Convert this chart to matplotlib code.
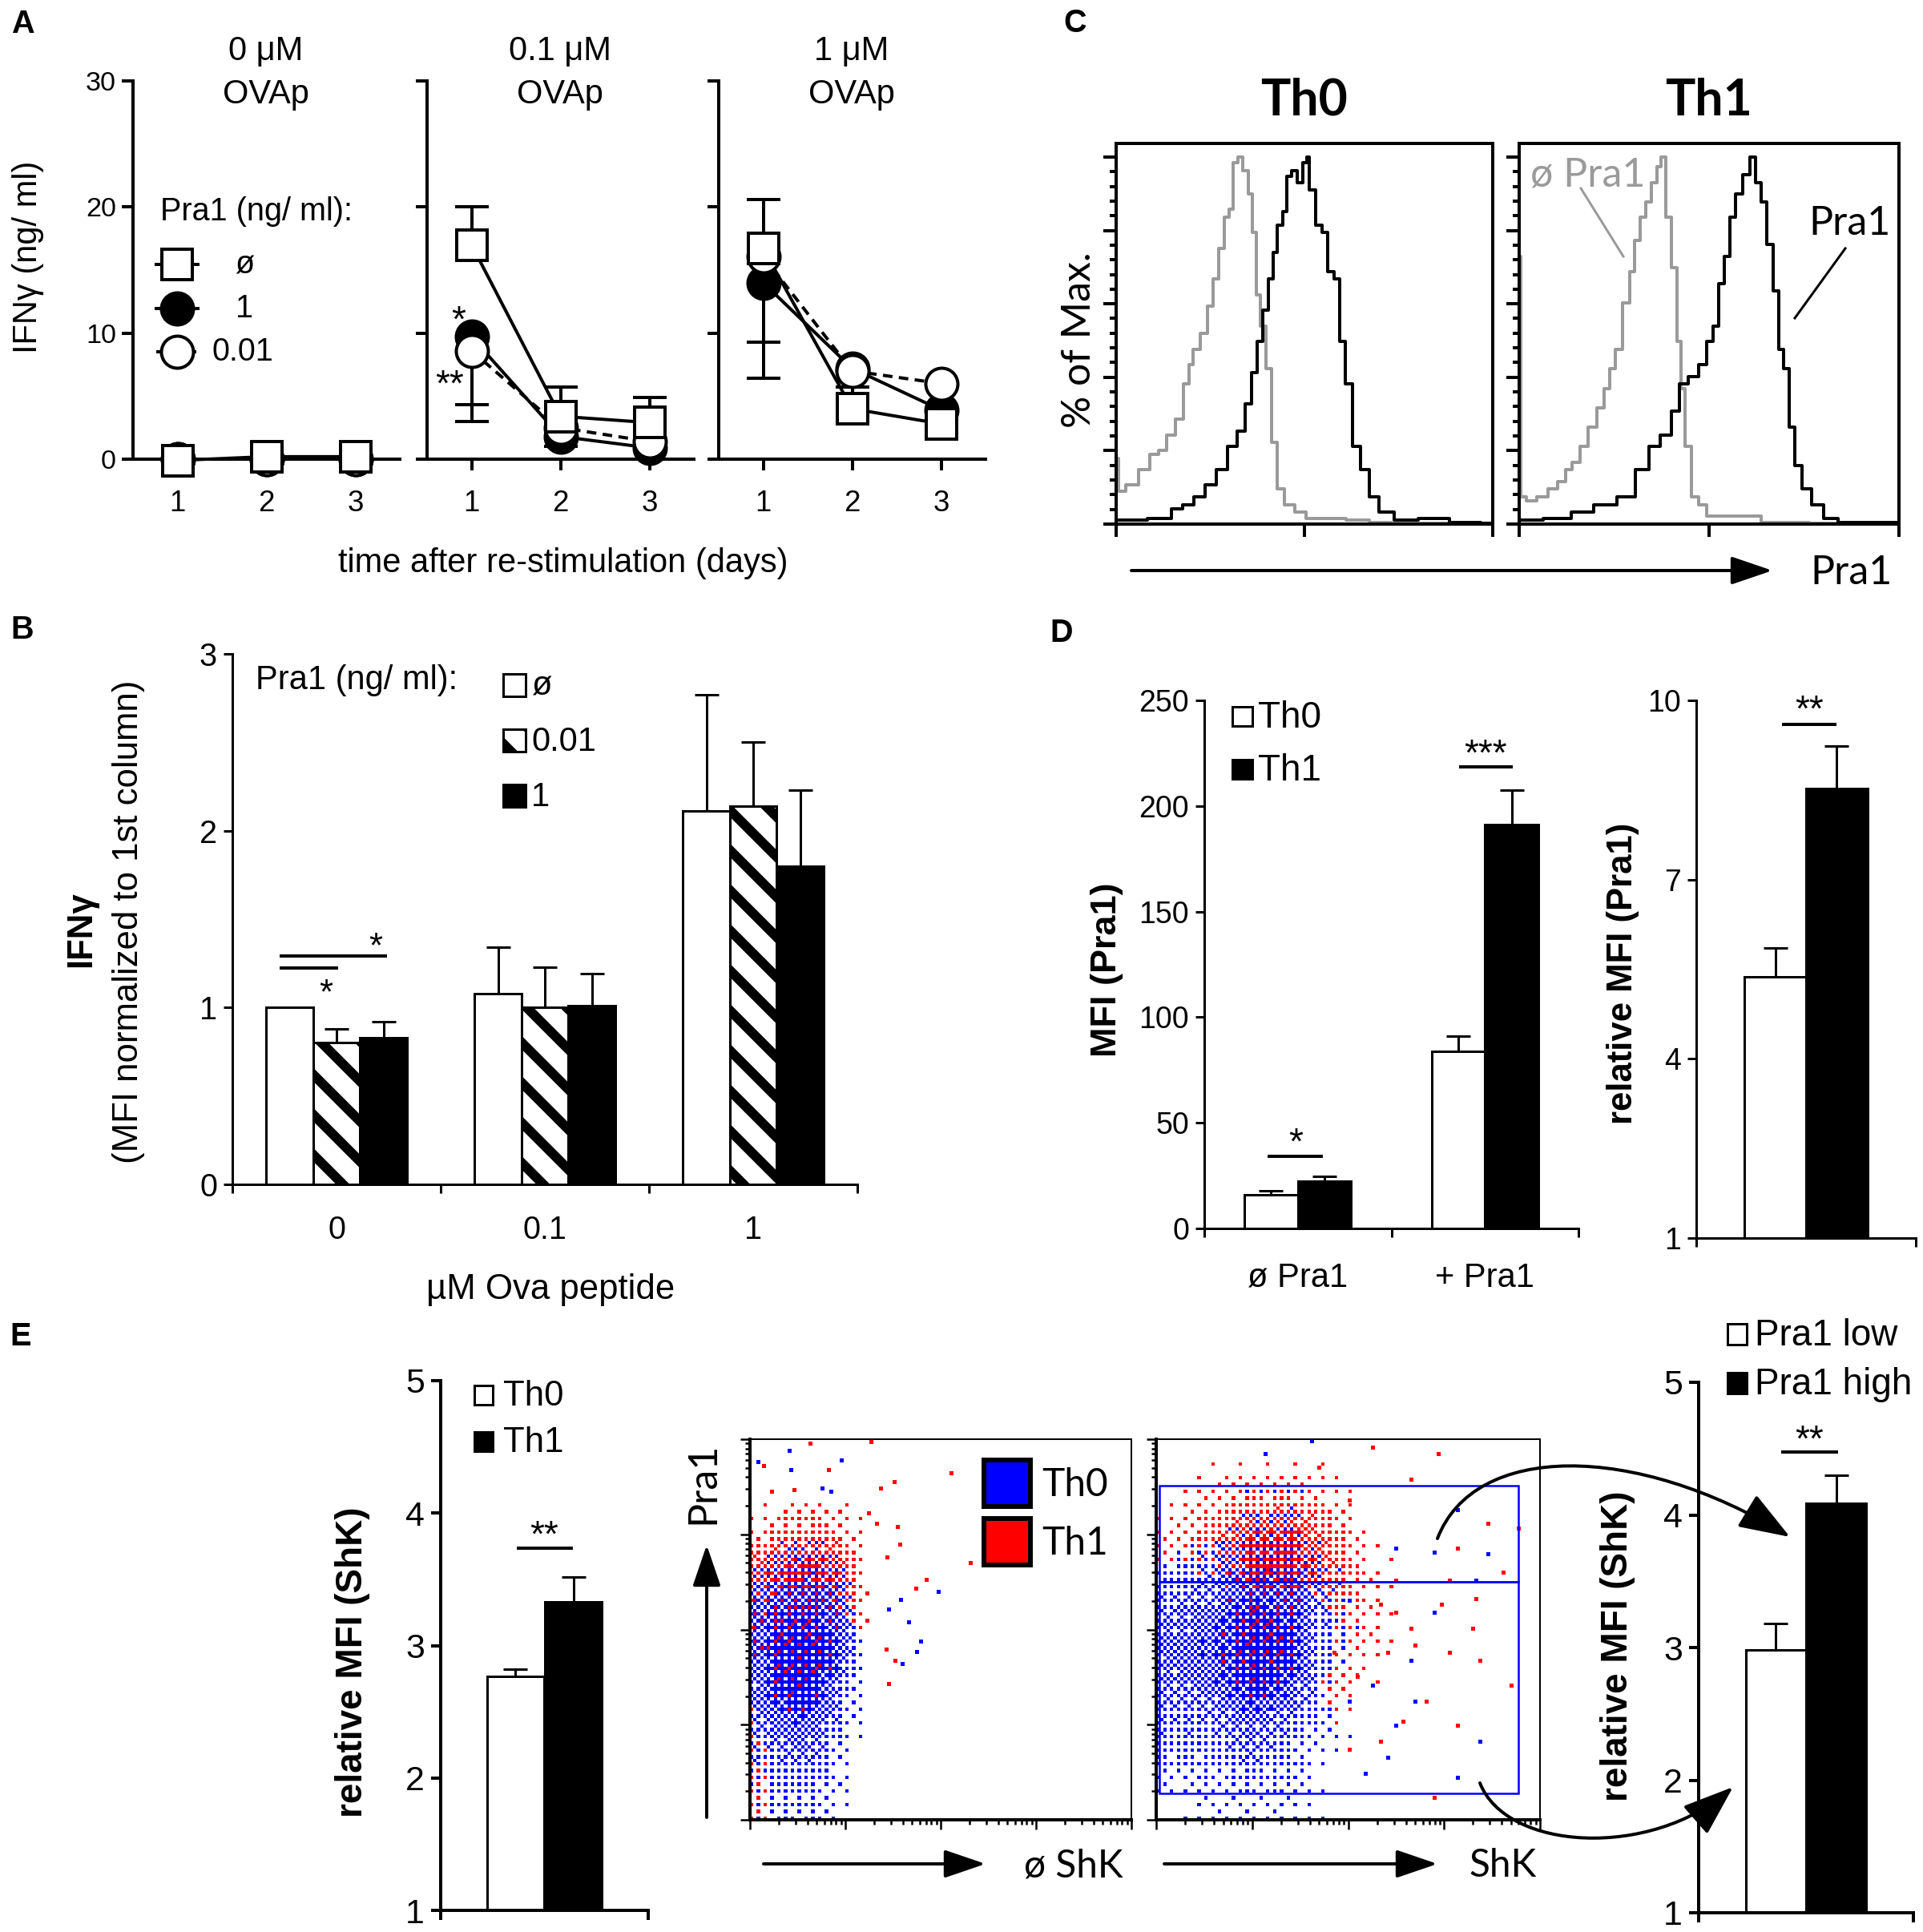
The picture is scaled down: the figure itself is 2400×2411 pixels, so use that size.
import numpy as np
import matplotlib
matplotlib.use('Agg')
import matplotlib.pyplot as plt
from matplotlib.patches import Rectangle, FancyArrowPatch
from matplotlib.path import Path
from matplotlib.lines import Line2D
from matplotlib.ticker import MultipleLocator, LogLocator, NullFormatter

W, H, DPI = 2400, 2411, 300
PT = 72.0 / DPI          # points per output pixel

ARIAL = ['Liberation Sans', 'DejaVu Sans']
CALIBRI = ['Lato', 'DejaVu Sans']
plt.rcParams['font.family'] = ARIAL
plt.rcParams['hatch.linewidth'] = 12 * PT
plt.rcParams['hatch.color'] = 'black'

# ===============================
# Data
# ===============================
# A: IFNg (ng/ml) over days, one list per OVAp concentration
days = [1, 2, 3]
a_titles = ['0 \u03bcM', '0.1 \u03bcM', '1 \u03bcM']
a_none = [[-0.1, 0.2, 0.2], [17.0, 3.4, 2.9], [16.7, 4.0, 2.8]]
a_none_up = [[0, 0, 0], [3.0, 2.3, 2.0], [3.9, 1.7, 0]]
a_one = [[0, 0, 0], [9.7, 1.8, 0.9], [14.0, 7.2, 3.9]]
a_one_down = [[0, 0, 0], [5.4, 0.8, 0], [7.6, 0, 0]]
a_low = [[0, 0, 0], [8.6, 2.5, 1.4], [16.1, 7.0, 6.0]]
a_low_down = [[0, 0, 0], [5.6, 0, 0], [6.8, 0, 0]]

# B: normalized IFNg
b_groups = ['0', '0.1', '1']
b_none = [1.00, 1.08, 2.11]
b_none_err = [0.0, 0.26, 0.66]
b_low = [0.80, 1.00, 2.14]
b_low_err = [0.08, 0.23, 0.36]
b_one = [0.83, 1.01, 1.80]
b_one_err = [0.09, 0.18, 0.43]

# C: histograms, x in log decades, y in % of max
c0_gray_x = [0, 0.006, 0.04, 0.16, 0.31, 0.40, 0.49, 0.58, 0.67, 0.76, 0.79, 0.85, 0.94, 1.00, 1.06,
             1.12, 1.18, 1.22, 1.27, 1.31, 1.37, 1.43, 1.47, 1.50, 1.56, 1.62, 1.68, 1.74, 1.83, 1.95,
             2.07, 2.31, 2.55, 2.79, 3.03, 4.0]
c0_gray_y = [0, 18.0, 9.0, 10.6, 14.8, 19.0, 20.1, 24.3, 28.6, 38.1, 43.4, 47.6, 51.9, 59.3, 66.7,
             75.1, 83.6, 85.7, 98.4, 100, 96.3, 89.9, 79.4, 62.4, 54.0, 42.3, 22.2, 9.5, 5.3, 3.2,
             1.6, 1.6, 1.1, 0.5, 0.2, 0]
c0_black_x = [0, 0.52, 0.64, 0.76, 0.88, 1.00, 1.12, 1.24, 1.33, 1.41, 1.47, 1.53, 1.59, 1.65, 1.68,
              1.74, 1.80, 1.83, 1.89, 1.95, 2.01, 2.04, 2.07, 2.16, 2.22, 2.28, 2.34, 2.40, 2.46, 2.55,
              2.64, 2.73, 2.85, 3.03, 3.33, 3.68, 4.0]
c0_black_y = [1.1, 1.6, 4.2, 5.3, 7.4, 10.6, 14.8, 21.2, 25.4, 32.8, 41.3, 49.7, 58.2, 66.7, 74.1,
              81.5, 85.2, 94.7, 96.3, 93.1, 98.4, 100, 91.0, 81.5, 79.4, 68.8, 66.7, 49.7, 38.1, 21.2,
              14.8, 7.4, 3.2, 1.1, 1.6, 0.5, 0.2]
c1_gray_x = [0, 0.006, 0.03, 0.12, 0.24, 0.36, 0.44, 0.53, 0.59, 0.68, 0.77, 0.86, 0.92, 0.98, 1.04,
             1.13, 1.19, 1.24, 1.30, 1.36, 1.42, 1.48, 1.51, 1.57, 1.63, 1.69, 1.72, 1.78, 1.84, 1.93,
             2.01, 2.37, 2.67, 3.26, 4.0]
c1_gray_y = [0, 73.0, 7.4, 6.3, 7.4, 9.5, 11.6, 14.8, 16.9, 21.2, 26.5, 31.7, 37.0, 42.3, 47.6,
             60.3, 68.8, 77.2, 83.6, 87.8, 93.1, 97.4, 100, 83.6, 69.8, 49.7, 37.0, 21.2, 7.4, 5.3,
             2.1, 2.1, 0.5, 0.2, 0]
c1_black_x = [0, 0.41, 0.65, 0.89, 1.13, 1.30, 1.42, 1.54, 1.66, 1.72, 1.84, 1.93, 2.01, 2.07, 2.13,
              2.19, 2.25, 2.31, 2.40, 2.46, 2.52, 2.58, 2.64, 2.70, 2.76, 2.81, 2.87, 2.93, 3.02, 3.14,
              3.26, 3.44, 4.0]
c1_black_y = [1.1, 1.6, 3.2, 5.3, 7.4, 14.8, 21.2, 24.3, 30.7, 38.1, 40.2, 43.4, 49.7, 54.0, 65.6,
              73.0, 83.6, 89.9, 95.2, 100, 93.1, 87.8, 76.2, 63.5, 47.6, 42.3, 26.5, 15.9, 9.5, 5.3,
              1.6, 0.5, 0.5]

# D: MFI (Pra1)
d_groups = ['\u00f8 Pra1', '+ Pra1']
d_th0 = [15.8, 83.8]
d_th0_err = [1.9, 7.3]
d_th1 = [22.5, 191.3]
d_th1_err = [2.0, 16.1]
d_rel = [5.37, 8.53]
d_rel_err = [0.48, 0.71]

# E: relative MFI (ShK)
e_shk = [2.77, 3.33]
e_shk_err = [0.05, 0.19]
e_gate = [2.98, 4.09]
e_gate_err = [0.20, 0.21]

# E dot plots: event density (0-9) per cell, rows from top to bottom
s1_blue = [[0, 0, 1, 1, 0, 0, 0],
           [1, 2, 3, 3, 2, 0, 0],
           [5, 7, 8, 8, 5, 1, 0],
           [6, 9, 9, 9, 7, 2, 0],
           [5, 8, 9, 8, 5, 1, 0],
           [3, 5, 6, 5, 3, 1, 0],
           [2, 3, 3, 3, 1, 0, 0],
           [1, 2, 2, 2, 1, 0, 0]]
s1_red = [[1, 2, 3, 3, 2, 1, 0],
          [5, 7, 8, 8, 6, 2, 0],
          [6, 6, 6, 6, 6, 3, 0],
          [6, 4, 3, 3, 5, 2, 0],
          [5, 4, 3, 3, 3, 1, 0],
          [4, 3, 3, 3, 2, 1, 0],
          [3, 2, 2, 2, 1, 0, 0],
          [2, 2, 2, 2, 1, 0, 0]]
s2_blue = [[0, 0, 1, 1, 0, 0, 0, 0, 0],
           [0, 1, 1, 1, 0, 0, 0, 0, 0],
           [2, 3, 4, 4, 1, 0, 0, 0, 0],
           [4, 5, 8, 7, 2, 0, 0, 0, 0],
           [5, 6, 9, 8, 2, 0, 0, 0, 0],
           [4, 5, 8, 6, 1, 0, 0, 0, 0],
           [3, 3, 5, 3, 1, 0, 0, 0, 0],
           [2, 2, 3, 2, 0, 0, 0, 0, 0],
           [0, 1, 1, 1, 0, 0, 0, 0, 0]]
s2_red = [[0, 1, 2, 2, 1, 0, 0, 0, 0],
          [1, 3, 6, 7, 3, 0, 0, 0, 0],
          [2, 4, 8, 8, 4, 1, 0, 0, 0],
          [3, 4, 5, 5, 3, 1, 0, 0, 0],
          [3, 4, 4, 4, 2, 1, 0, 0, 0],
          [3, 4, 4, 3, 2, 0, 0, 0, 0],
          [2, 3, 3, 2, 1, 0, 0, 0, 0],
          [1, 2, 2, 1, 0, 0, 0, 0, 0],
          [0, 1, 1, 1, 0, 0, 0, 0, 0]]
# sparse single events (axes fraction)
s1_red_x = [0.157, 0.318, 0.528, 0.378, 0.343, 0.31, 0.387, 0.36, 0.577, 0.462, 0.434, 0.392, 0.357, 0.381, 0.364, 0.332, 0.115, 0.056, 0.035, 0.206]
s1_red_y = [0.99, 0.993, 0.911, 0.888, 0.872, 0.806, 0.771, 0.69, 0.675, 0.631, 0.608, 0.724, 0.448, 0.42, 0.357, 0.78, 0.867, 0.864, 0.93, 0.92]
s1_blue_x = [0.103, 0.021, 0.24, 0.108, 0.189, 0.212, 0.494, 0.416, 0.448, 0.394, 0.437, 0.399, 0.364]
s1_blue_y = [0.97, 0.942, 0.945, 0.92, 0.871, 0.864, 0.601, 0.52, 0.469, 0.58, 0.442, 0.41, 0.554]
s2_red_x = [0.564, 0.734, 0.664, 0.944, 0.784, 0.624, 0.744, 0.834, 0.664, 0.604, 0.764, 0.524, 0.704, 0.584, 0.724,
            0.424, 0.504, 0.844, 0.904, 0.624, 0.864, 0.764, 0.674, 0.584, 0.824, 0.924, 0.644, 0.504, 0.784, 0.464]
s2_red_y = [0.979, 0.963, 0.894, 0.767, 0.714, 0.63, 0.566, 0.582, 0.503, 0.439, 0.439, 0.376, 0.312, 0.206, 0.058,
            0.926, 0.841, 0.418, 0.651, 0.545, 0.778, 0.63, 0.46, 0.566, 0.503, 0.354, 0.259, 0.185, 0.249, 0.439]
s2_blue_x = [0.284, 0.404, 0.784, 0.864, 0.724, 0.834, 0.564, 0.624, 0.674, 0.604, 0.784, 0.544, 0.504, 0.664,
             0.624, 0.724, 0.504, 0.844]
s2_blue_y = [0.963, 0.995, 0.815, 0.698, 0.704, 0.63, 0.354, 0.249, 0.312, 0.164, 0.111, 0.122, 0.577, 0.418,
             0.714, 0.545, 0.312, 0.206]

# ===============================
# Helpers (positions in output pixels)
# ===============================
fig = plt.figure(figsize=(W / DPI, H / DPI), dpi=DPI)


def p(v):
    return v * PT


def box(x0, y0, x1, y1):
    ax = fig.add_axes([x0 / W, 1 - y1 / H, (x1 - x0) / W, (y1 - y0) / H])
    ax.set_facecolor('none')
    return ax


def ftext(x, y, s, **kw):
    kw.setdefault('ha', 'center')
    kw.setdefault('va', 'center')
    return fig.text(x / W, 1 - y / H, s, **kw)


def fline(xs, ys, **kw):
    fig.add_artist(Line2D([x / W for x in xs], [1 - y / H for y in ys],
                          transform=fig.transFigure, **kw))


def frect(x0, y0, x1, y1, **kw):
    fig.add_artist(Rectangle((x0 / W, 1 - y1 / H), (x1 - x0) / W, (y1 - y0) / H,
                             transform=fig.transFigure, **kw))


def farrow(pts, lw, hl, hw, curve=False):
    verts = [(x / W, 1 - y / H) for x, y in pts]
    style = f'-|>,head_length={p(hl)},head_width={p(hw)}'
    if curve:
        path = Path(verts, [Path.MOVETO, Path.CURVE4, Path.CURVE4, Path.CURVE4])
        a = FancyArrowPatch(path=path, arrowstyle=style, mutation_scale=1,
                            lw=p(lw), color='k', transform=fig.transFigure)
    else:
        a = FancyArrowPatch(verts[0], verts[1], arrowstyle=style, mutation_scale=1,
                            lw=p(lw), color='k', shrinkA=0, shrinkB=0,
                            transform=fig.transFigure)
    fig.add_artist(a)


def bar_axes(ax, lw, ylim, yticks, fs, tlen):
    ax.set_ylim(*ylim)
    ax.set_yticks(yticks)
    for s in ('top', 'right'):
        ax.spines[s].set_visible(False)
    for s in ('left', 'bottom'):
        ax.spines[s].set_linewidth(p(lw))
    ax.tick_params(direction='out', width=p(lw), length=p(tlen), labelsize=fs, pad=p(8))


def bars(ax, xs, vals, errs, width, lw, **kw):
    ax.bar(xs, vals, width=width, edgecolor='k', linewidth=p(lw), zorder=2, **kw)
    ax.errorbar(xs, vals, yerr=[[0] * len(vals), errs], fmt='none', ecolor='k',
                elinewidth=p(lw), capsize=p(15), capthick=p(lw), zorder=1)


def star(x, y, s, fs):
    ftext(x, y, s, fontsize=fs)


# ===============================
# Panel A
# ===============================
a_left = [166, 533, 897]
for i in range(3):
    ax = box(a_left[i], 101, a_left[i] + 333, 573)
    ax.set_xlim(0.5, 3.5)
    ax.set_ylim(0, 30)
    lw = p(4)
    ax.errorbar(days, a_none[i], yerr=[[0, 0, 0], a_none_up[i]], fmt='none', ecolor='k',
                elinewidth=lw, capsize=p(21), capthick=lw, zorder=2, clip_on=False)
    ax.errorbar(days, a_one[i], yerr=[a_one_down[i], [0, 0, 0]], fmt='none', ecolor='k',
                elinewidth=lw, capsize=p(21), capthick=lw, zorder=2, clip_on=False)
    ax.errorbar(days, a_low[i], yerr=[a_low_down[i], [0, 0, 0]], fmt='none', ecolor='k',
                elinewidth=lw, capsize=p(21), capthick=lw, zorder=2, clip_on=False)
    ax.plot(days, a_none[i], '-', color='k', lw=lw, zorder=3, clip_on=False)
    ax.plot(days, a_one[i], '-', color='k', lw=lw, zorder=3, clip_on=False)
    ax.plot(days, a_low[i], '--', color='k', lw=lw, dashes=(3, 2), zorder=3, clip_on=False)
    ax.plot(days, a_one[i], 'o', mfc='k', mec='k', ms=p(40), mew=lw, zorder=4, clip_on=False)
    ax.plot(days, a_low[i], 'o', mfc='white', mec='k', ms=p(40), mew=lw, zorder=5, clip_on=False)
    ax.plot(days, a_none[i], 's', mfc='white', mec='k', ms=p(38), mew=lw, zorder=6, clip_on=False)
    for s in ('top', 'right'):
        ax.spines[s].set_visible(False)
    for s in ('left', 'bottom'):
        ax.spines[s].set_linewidth(lw)
    ax.set_yticks([0, 10, 20, 30])
    ax.set_xticks(days)
    ax.tick_params(axis='y', direction='out', width=lw, length=p(14), labelsize=8.2, pad=p(7),
                   labelleft=(i == 0))
    ax.tick_params(axis='x', direction='out', width=lw, length=p(14), labelsize=8.8, pad=p(24))
    cx = a_left[i] + 166
    ftext(cx, 64, a_titles[i], fontsize=10)
    ftext(cx, 118, 'OVAp', fontsize=10)

ftext(703, 703, 'time after re-stimulation (days)', fontsize=10)
ftext(35, 321, 'IFN\u03b3 (ng/ ml)', fontsize=10, rotation=90)
ftext(200, 264, 'Pra1 (ng/ ml):', fontsize=9.5, ha='left')
fline([195, 247], [330, 330], color='k', lw=p(4))
fline([221], [330], marker='s', mfc='white', mec='k', ms=p(38), mew=p(4))
fline([195, 247], [385, 385], color='k', lw=p(4))
fline([221], [385], marker='o', mfc='k', mec='k', ms=p(40), mew=p(4))
fline([195, 247], [439, 439], color='k', lw=p(4), ls='--', dashes=(2, 1.5))
fline([221], [439], marker='o', mfc='white', mec='k', ms=p(40), mew=p(4))
ftext(305, 330, '\u00f8', fontsize=9.5)
ftext(305, 385, '1', fontsize=9.5)
ftext(265, 439, '0.01', fontsize=9.5, ha='left')
star(572, 402, '*', 11)
star(561, 482, '**', 11)

# ===============================
# Panel B
# ===============================
ax = box(290, 816, 1070, 1478)
bar_axes(ax, 3, (0, 3), [0, 1, 2, 3], 9.5, 11)
xs = np.arange(len(b_groups))
bw = 0.225
bars(ax, xs - bw, b_none, b_none_err, bw, 3, color='white')
bars(ax, xs, b_low, b_low_err, bw, 3, color='white', hatch='\\\\')
bars(ax, xs + bw, b_one, b_one_err, bw, 3, color='black')
ax.set_xlim(-0.5, 2.5)
ax.set_xticks([-0.5, 0.5, 1.5, 2.5])
ax.set_xticklabels([])
ax.set_xticks(xs, minor=True)
ax.set_xticklabels(b_groups, minor=True)
ax.tick_params(axis='x', which='minor', length=0, labelsize=9.5, pad=p(38))
ftext(687, 1610, '\u00b5M Ova peptide', fontsize=10.5)
ftext(102, 1160, 'IFN\u03b3', fontsize=10.5, rotation=90, fontweight='bold')
ftext(161, 1150, '(MFI normalized to 1st column)', fontsize=10.5, rotation=90)
ftext(319, 849, 'Pra1 (ng/ ml):', fontsize=10, ha='left')
for yy, kw, lab in [(855, dict(facecolor='white'), '\u00f8'),
                    (924, dict(facecolor='white', hatch='\\\\'), '0.01'),
                    (993, dict(facecolor='black'), '1')]:
    frect(628, yy - 14, 656, yy + 14, edgecolor='k', lw=p(3), **kw)
    ftext(663, yy + 2, lab, fontsize=10, ha='left')
fline([351, 481], [1193, 1193], color='k', lw=p(4))
fline([351, 420], [1208, 1208], color='k', lw=p(4))
star(469, 1183, '*', 10.5)
star(407, 1241, '*', 10.5)

# ===============================
# Panel C
# ===============================
for x0, x1, title, gx, gy, kx, ky in [
        (1393, 1863, 'Th0', c0_gray_x, c0_gray_y, c0_black_x, c0_black_y),
        (1896, 2370, 'Th1', c1_gray_x, c1_gray_y, c1_black_x, c1_black_y)]:
    ax = box(x0, 179, x1, 654)
    ax.set_xscale('log')
    ax.set_xlim(1, 1e4)
    ax.set_ylim(0, 103.7)
    ax.plot(10 ** np.array(gx), gy, color='#9a9a9a', lw=p(4), zorder=2, drawstyle='steps-mid')
    ax.plot(10 ** np.array(kx), ky, color='k', lw=p(4), zorder=3, drawstyle='steps-mid')
    for s in ax.spines.values():
        s.set_linewidth(p(4))
    ax.set_yticks(np.arange(0, 101, 20))
    ax.yaxis.set_minor_locator(MultipleLocator(4))
    ax.xaxis.set_major_locator(LogLocator(base=10))
    ax.xaxis.set_minor_locator(LogLocator(base=10, subs=np.arange(2, 10)))
    ax.xaxis.set_minor_formatter(NullFormatter())
    ax.tick_params(which='major', direction='out', width=p(4), length=p(16),
                   labelleft=False, labelbottom=False)
    ax.tick_params(which='minor', direction='out', width=p(4), length=p(8))
    ftext((x0 + x1) / 2, 126, title, fontsize=15, fontweight='bold', family=CALIBRI)

ftext(1347, 424, '% of Max.', fontsize=12, rotation=90, family=CALIBRI)
ftext(1910, 218, '\u00f8 Pra1', fontsize=12, ha='left', color='#9a9a9a', family=CALIBRI)
fline([1973, 2026], [235, 320], color='#9a9a9a', lw=p(3))
ftext(2257, 279, 'Pra1', fontsize=12, ha='left', family=CALIBRI)
fline([2303, 2240], [310, 397], color='k', lw=p(3))
farrow([(1412, 712), (2212, 712)], 4, 44, 15)
ftext(2310, 715, 'Pra1', fontsize=12, family=CALIBRI)

# ===============================
# Panel D
# ===============================
ax = box(1503, 874, 1970, 1533)
bar_axes(ax, 3, (0, 250), [0, 50, 100, 150, 200, 250], 9, 11)
xs = np.arange(len(d_groups))
bw = 0.285
bars(ax, xs - bw / 2, d_th0, d_th0_err, bw, 3, color='white')
bars(ax, xs + bw / 2, d_th1, d_th1_err, bw, 3, color='black')
ax.set_xlim(-0.5, 1.5)
ax.set_xticks([-0.5, 0.5, 1.5])
ax.set_xticklabels([])
ax.set_xticks(xs, minor=True)
ax.set_xticklabels(d_groups, minor=True)
ax.tick_params(axis='x', which='minor', length=0, labelsize=10, pad=p(42))
ftext(1381, 1210, 'MFI (Pra1)', fontsize=10.8, rotation=90, fontweight='bold')
for yy, fc, lab in [(894, 'white', 'Th0'), (960, 'black', 'Th1')]:
    frect(1538, yy - 12, 1563, yy + 12, facecolor=fc, edgecolor='k', lw=p(3))
    ftext(1570, yy + 2, lab, fontsize=11, ha='left')
fline([1584, 1649], [1443, 1443], color='k', lw=p(4))
star(1617, 1428, '*', 11)
fline([1823, 1886], [957, 957], color='k', lw=p(4))
star(1854, 943, '***', 11)

ax = box(2117, 874, 2391, 1545)
bar_axes(ax, 3, (1, 10), [1, 4, 7, 10], 9, 11)
bars(ax, [-0.14], d_rel[:1], d_rel_err[:1], 0.28, 3, color='white')
bars(ax, [0.14], d_rel[1:], d_rel_err[1:], 0.28, 3, color='black')
ax.set_xlim(-0.5, 0.5)
ax.set_xticks([-0.5, 0.5])
ax.set_xticklabels([])
ftext(2026, 1215, 'relative MFI (Pra1)', fontsize=10.5, rotation=90, fontweight='bold')
fline([2226, 2290], [904, 904], color='k', lw=p(4))
star(2258, 888, '**', 11)

# ===============================
# Panel E: bar charts
# ===============================
ax = box(550, 1723, 809, 2384)
bar_axes(ax, 4, (1, 5), [1, 2, 3, 4, 5], 10.3, 12)
bars(ax, [-0.14], e_shk[:1], e_shk_err[:1], 0.275, 3, color='white')
bars(ax, [0.14], e_shk[1:], e_shk_err[1:], 0.275, 3, color='black')
ax.set_xlim(-0.5, 0.5)
ax.set_xticks([-0.5, 0.5])
ax.set_xticklabels([])
ftext(440, 2074, 'relative MFI (ShK)', fontsize=11, rotation=90, fontweight='bold')
for yy, fc, lab in [(1741, 'white', 'Th0'), (1799, 'black', 'Th1')]:
    frect(592, yy - 12, 615, yy + 12, facecolor=fc, edgecolor='k', lw=p(3))
    ftext(628, yy + 2, lab, fontsize=10.5, ha='left')
fline([647, 713], [1932, 1932], color='k', lw=p(4))
star(679, 1918, '**', 11)

ax = box(2120, 1725, 2388, 2387)
bar_axes(ax, 4, (1, 5), [1, 2, 3, 4, 5], 10.3, 12)
bars(ax, [-0.14], e_gate[:1], e_gate_err[:1], 0.28, 3, color='white')
bars(ax, [0.14], e_gate[1:], e_gate_err[1:], 0.28, 3, color='black')
ax.set_xlim(-0.5, 0.5)
ax.set_xticks([-0.5, 0.5])
ax.set_xticklabels([])
ftext(2019, 2054, 'relative MFI (ShK)', fontsize=11, rotation=90, fontweight='bold')
for yy, fc, lab in [(1665, 'white', 'Pra1 low'), (1726, 'black', 'Pra1 high')]:
    frect(2156, yy - 13, 2180, yy + 13, facecolor=fc, edgecolor='k', lw=p(3))
    ftext(2190, yy + 2, lab, fontsize=11, ha='left')
fline([2225, 2292], [1812, 1812], color='k', lw=p(4))
star(2258, 1799, '**', 11)


# ===============================
# Panel E: dot plots
# ===============================
def upsample(grid, xmax, ymax, n):
    # bilinear spread of the cell densities onto an n x n raster (rows bottom -> top)
    g = np.array(grid, float)[::-1]
    nr, nc = g.shape
    dx, dy = xmax / nc, ymax / nr
    xc = np.concatenate([[0.0], (np.arange(nc) + 0.5) * dx, [xmax + dx / 2]])
    yc = np.concatenate([[-dy / 2], (np.arange(nr) + 0.5) * dy, [ymax + dy / 2]])
    g = np.hstack([g[:, :1], g, np.zeros((nr, 1))])
    g = np.vstack([g[:1] * 0.6, g, np.zeros((1, nc + 2))])
    t = (np.arange(n) + 0.5) / n
    rows = np.array([np.interp(t, xc, r, left=0, right=0) for r in g])
    out = np.array([np.interp(t, yc, c, left=0, right=0) for c in rows.T]).T
    return out


def bayer(n):
    m = np.array([[0, 2], [3, 1]])
    while m.shape[0] < n:
        m = np.block([[4 * m, 4 * m + 2], [4 * m + 3, 4 * m + 1]])
    return (m + 0.5) / m.size


def dots(ax, gb, gr, xmax, ymax, n=112):
    b = upsample(gb, xmax, ymax, n)
    r = upsample(gr, xmax, ymax, n)
    reps = n // 8 + 1
    t1 = np.tile(bayer(8), (reps, reps))[:n, :n]
    t2 = np.tile(np.roll(bayer(8).T, (3, 5), axis=(0, 1)), (reps, reps))[:n, :n]
    occ = np.clip(np.maximum(b, r) / 9.0, 0, 1) * 0.88 > t1
    frac_b = b / np.maximum(b + r, 1e-9)
    blue = occ & (frac_b > t2)
    red = occ & ~blue
    img = np.ones((n, n, 4))
    img[..., 3] = 0
    img[blue] = (0, 0, 1, 1)
    img[red] = (1, 0, 0, 1)
    ax.imshow(img, extent=(0, 1, 0, 1), origin='lower', interpolation='nearest',
              aspect='auto', zorder=1)


major = [0, 0.25, 0.5, 0.75, 1.0]
minor = [(d + np.log10(k)) / 4 for d in range(4) for k in range(2, 10)]
scatter_sets = [(936, 1412, s1_blue, s1_red, 0.35, 0.8, s1_red_x, s1_red_y, s1_blue_x, s1_blue_y),
                (1443, 1922, s2_blue, s2_red, 0.9, 0.9, s2_red_x, s2_red_y, s2_blue_x, s2_blue_y)]
for k, (x0, x1, gb, gr, xm, ym, rx, ry, bx, by) in enumerate(scatter_sets):
    ax = box(x0, 1796, x1, 2271)
    dots(ax, gb, gr, xm, ym)
    ax.plot(rx, ry, 's', color='red', ms=p(5), mew=0, zorder=2)
    ax.plot(bx, by, 's', color='blue', ms=p(5), mew=0, zorder=2)
    ax.set_xlim(0, 1)
    ax.set_ylim(0, 1)
    ax.set_xticks(major)
    ax.set_yticks(major)
    ax.set_xticks(minor, minor=True)
    ax.set_yticks(minor, minor=True)
    ax.tick_params(which='both', direction='out', width=p(2.5), labelleft=False, labelbottom=False)
    ax.tick_params(which='major', length=p(12))
    ax.tick_params(which='minor', length=p(6))
    for s in ('left', 'bottom'):
        ax.spines[s].set_linewidth(p(4))
    for s in ('top', 'right'):
        ax.spines[s].set_linewidth(p(2))
    if k == 1:
        ax.add_patch(Rectangle((0.008, 0.069), 0.936, 0.556, fill=False, edgecolor='blue',
                               lw=p(2.5), zorder=3))
        ax.add_patch(Rectangle((0.008, 0.625), 0.936, 0.253, fill=False, edgecolor='blue',
                               lw=p(2.5), zorder=3))

frect(1228, 1822, 1286, 1880, facecolor='blue', edgecolor='k', lw=p(6))
frect(1228, 1895, 1286, 1953, facecolor='red', edgecolor='k', lw=p(6))
ftext(1300, 1853, 'Th0', fontsize=11.5, ha='left', family=CALIBRI)
ftext(1300, 1926, 'Th1', fontsize=11.5, ha='left', family=CALIBRI)

farrow([(882, 2268), (882, 1928)], 4, 44, 15)
ftext(877, 1851, 'Pra1', fontsize=12, rotation=90, family=CALIBRI)
farrow([(953, 2326), (1230, 2326)], 4, 44, 15)
ftext(1278, 2328, '\u00f8 ShK', fontsize=11.5, ha='left', family=CALIBRI)
farrow([(1453, 2326), (1794, 2326)], 4, 44, 15)
ftext(1833, 2328, 'ShK', fontsize=11.5, ha='left', family=CALIBRI)

farrow([(1794, 1920), (1840, 1800), (2040, 1800), (2234, 1918)], 4, 55, 20, curve=True)
farrow([(1847, 2225), (1880, 2310), (2060, 2320), (2163, 2230)], 4, 55, 20, curve=True)

# ===============================
# Panel letters
# ===============================
for lab, x, y in [('A', 28, 30), ('B', 28, 786), ('C', 1342, 29), ('D', 1325, 790), ('E', 26, 1668)]:
    ftext(x, y, lab, fontsize=9.5, fontweight='bold')

fig.savefig('out.png', dpi=DPI)
